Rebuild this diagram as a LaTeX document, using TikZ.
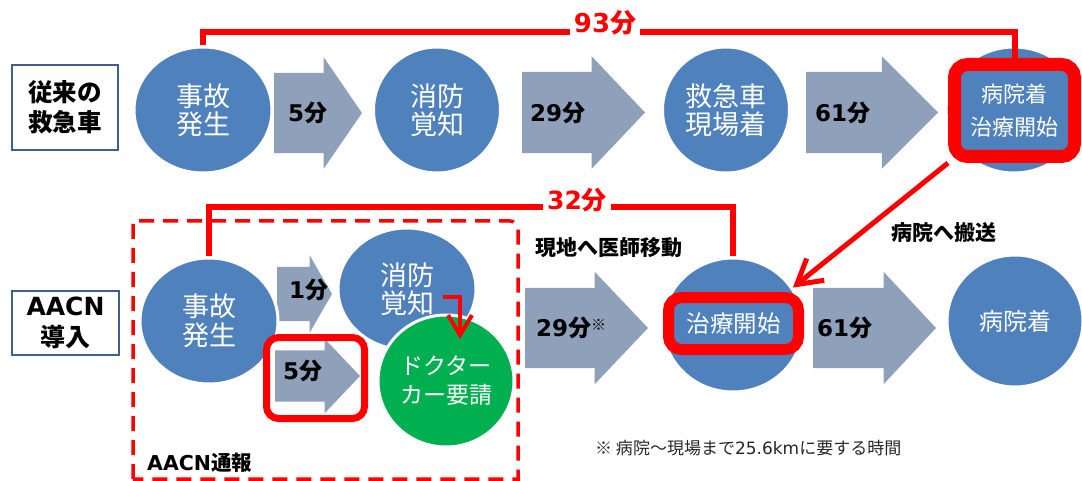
\documentclass[tikz,border=0pt]{standalone}
\usepackage{fontspec}
\setmainfont{Noto Sans CJK JP}
\newfontfamily\latin{DejaVu Sans}
\usepackage{tikz}
\usetikzlibrary{arrows.meta,positioning,shapes.geometric,shapes.arrows}
\definecolor{stageblue}{HTML}{4F81BD}
\definecolor{flowgray}{HTML}{8EA0BA}
\definecolor{alertred}{HTML}{FF0000}
\definecolor{docgreen}{HTML}{00B050}
\definecolor{tagblue}{HTML}{3F5F8F}
\newcommand{\fsz}[2]{\fontsize{#1}{#2}\selectfont}

\begin{document}
\begin{tikzpicture}[x=1pt, y=-1pt,
  stage/.style={ellipse, fill=stageblue, draw=white, line width=3pt, inner sep=0pt, text=white, align=center, font=\fsz{27}{28}},
  flow/.style n args={4}{single arrow, fill=flowgray, anchor=tail, inner xsep=0pt, outer sep=0pt, minimum height=#1, inner ysep=#2, single arrow head extend=#3, minimum width={2*(#2+#3)}, single arrow tip angle=#4},
  minute/.style={anchor=west, inner sep=0pt, font=\bfseries\fsz{23}{23}},
  tag/.style={rectangle, draw=tagblue, line width=2.5pt, align=center, font=\bfseries\fsz{25}{31}},
  redframe/.style={rectangle, rounded corners=13pt, draw=alertred, align=center, inner sep=0pt},
  bracket/.style={draw=alertred, line width=6pt},
  gaplabel/.style={fill=white, text=alertred, inner sep=4pt, font=\bfseries\fsz{26}{26}},
  note/.style={inner sep=0pt, font=\bfseries\fsz{21}{21}},
  dashbox/.style={draw=alertred, line width=3.5pt, dash pattern=on 15pt off 9pt},
  alertarrow/.style={draw=alertred, line width=5pt, -{Straight Barb[length=24pt,width=28pt]}}]
\useasboundingbox (0,0) rectangle (1082,481);

% block arrows
\node[flow={88}{40}{15.5}{111}] (flowa1) at (274,113) {};
\node[flow={123}{40.5}{15.5}{93}] (flowa2) at (522,112.5) {};
\node[flow={132}{40.5}{15.5}{90}] (flowa3) at (806,112.5) {};
\node[flow={55}{27}{11.5}{120}] (flowb1) at (277,294) {};
\node[flow={85}{25.5}{11.5}{93}] (flowb2) at (275,376) {};
\node[flow={123}{40}{16}{93}] (flowb3) at (525,328) {};
\node[flow={123}{40}{16}{94}] (flowb4) at (813,328) {};

% conventional row
\node[stage, minimum width=138, minimum height=126] (acc1) at (203,110) {事故\\発生};
\node[stage, minimum width=127, minimum height=126] (fire1) at (437,110) {消防\\覚知};
\node[stage, minimum width=127, minimum height=126] (amb1) at (726,110) {救急車\\現場着};
\node[stage, minimum width=136, minimum height=126] (hosp1) at (1014,110) {};
\node[redframe, line width=13pt, fill=stageblue, text=white, minimum width=120, minimum height=92, font=\fsz{22}{33}] (hosp1box) at (1014.5,110.5) {病院着\\治療開始};

% AACN row
\node[stage, minimum width=138, minimum height=126, font=\fsz{27}{29}] (acc2) at (209,321) {事故\\発生};
\node[stage, minimum width=138, minimum height=122] (fire2) at (407,289) {消防\\覚知};
\node[stage, fill=docgreen, minimum width=136, minimum height=132, font=\fsz{23}{29}] (doc2) at (446,381) {ドクター\\カー要請};
\node[stage, minimum width=140, minimum height=134] (treat2) at (733,325) {};
\node[stage, minimum width=136, minimum height=132, font=\fsz{24}{28}] (hosp2) at (1015,321) {病院着};
\node[redframe, line width=11pt, fill=stageblue, text=white, minimum width=130, minimum height=52, font=\fsz{23.5}{24}] (treat2box) at (733.5,323.5) {治療開始};
\node[redframe, line width=7pt, rounded corners=12pt, minimum width=98, minimum height=81] (fivebox) at (315.5,378) {};

% minutes on the arrows
\node[minute] (mina1) at (288,113) {{\latin 5}分};
\node[minute] (mina2) at (530,113) {{\latin 29}分};
\node[minute] (mina3) at (815,113) {{\latin 61}分};
\node[minute] (minb1) at (289,290) {{\latin 1}分};
\node[minute] (minb2) at (283,371) {{\latin 5}分};
\node[minute] (minb3) at (536,328) {{\latin 29}分\raisebox{6pt}{\mdseries\fsz{15}{15}※}};
\node[minute] (minb4) at (817,328) {{\latin 61}分};

% totals
\draw[bracket] (acc1.north) -- ++(0,-13) -| (hosp1box.north);
\node[gaplabel] (total1) at (605,23) {{\latin 93}分};
\draw[bracket] (acc2.north) -- ++(0,-49) -| (treat2.north);
\node[gaplabel, font=\bfseries\fsz{25}{25}] (total2) at (577,200) {{\latin 32}分};

% AACN area
\draw[dashbox] (133,479) -- (133,221) [rounded corners=8pt] -- (518,221) [sharp corners] -- (518,479) -- cycle;
\node[note, anchor=west, font=\bfseries\fsz{20.5}{21}] (aacnlabel) at (147,463) {{\latin AACN}通報};

% red arrows
\draw[alertarrow] (hosp1box.south west) -- (treat2.32);
\coordinate (callstart) at (443,297);
\coordinate (callend) at (460,339);
\draw[alertarrow, line width=4pt, -{Straight Barb[length=20pt,width=24pt]}] (callstart) -| (callend);

% row tags and notes
\node[tag, minimum width=106, minimum height=85, font=\bfseries\fsz{24.5}{30}] (convtag) at (65,107.5) {従来の\\救急車};
\node[tag, minimum width=107, minimum height=64] (aacntag) at (65.5,323) {{\latin AACN}\\導入};
\node[note] (movenote) at (609,248) {現地へ医師移動};
\node[note] (carrynote) at (944,233) {病院へ搬送};
\node[anchor=west, inner sep=0pt, text=black!85, font=\fsz{17}{17}] (footnote) at (595,448) {※ 病院～現場まで{\latin 25.6km}に要する時間};
\end{tikzpicture}
\end{document}
